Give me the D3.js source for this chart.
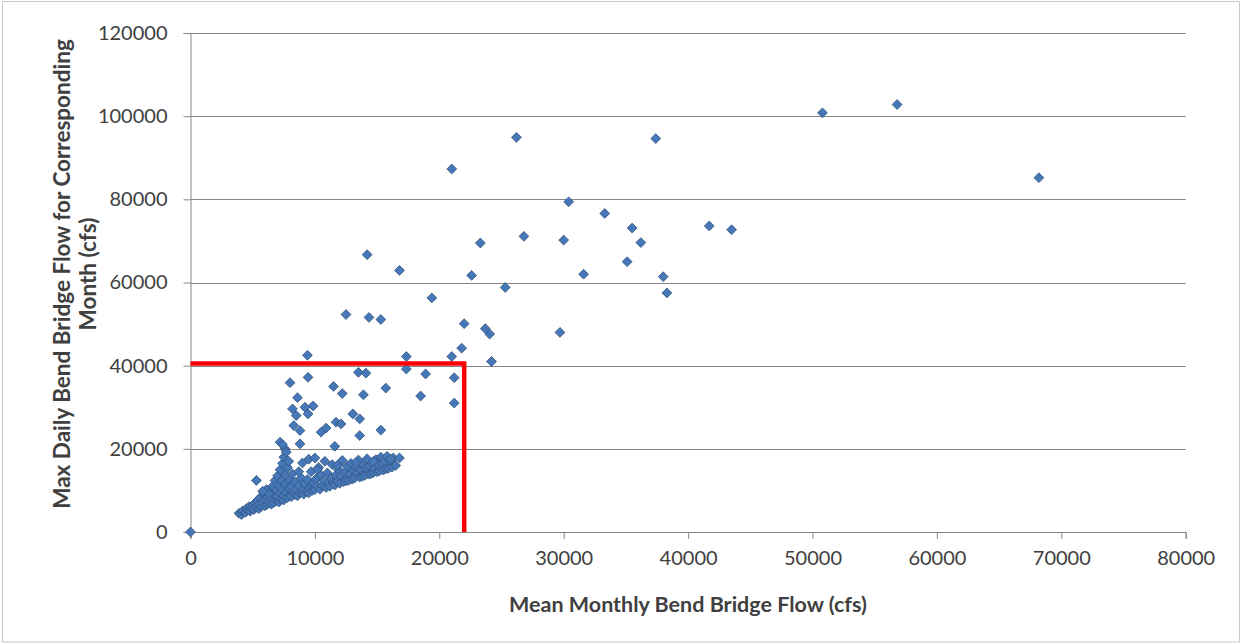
<!DOCTYPE html>
<html>
<head>
<meta charset="utf-8">
<script src="https://cdn.jsdelivr.net/npm/d3@7"></script>
<style>
  html, body { margin: 0; padding: 0; background: #ffffff; }
  svg { display: block; }
</style>
</head>
<body>
<svg id="chart" width="1243" height="644"></svg>
<script>
// ---------------- DATA ----------------
const xTicks = [0, 10000, 20000, 30000, 40000, 50000, 60000, 70000, 80000];
const yTicks = [0, 20000, 40000, 60000, 80000, 100000, 120000];
const xTitle = "Mean Monthly Bend Bridge Flow (cfs)";
const yTitleLines = ["Max Daily Bend Bridge Flow for Corresponding", "Month (cfs)"];

// Mean monthly flow (x) and max daily flow (y), cfs
const meanFlow = [
  0, 21000, 26200, 37400, 50800, 56800, 68200, 30400, 33300, 35500, 36200, 41700, 43500,
  23300, 26800, 30000, 35100, 22600, 31600, 38000, 38300, 25300, 19400, 29700, 22000,
  23700, 24050, 21800, 21000, 17350, 24200, 17350, 18900, 21200, 18500, 21200, 14200,
  16800, 12500, 14350, 15300, 9400, 13500, 14100, 9450, 8000, 11500, 12200, 15700, 13900,
  8600, 8200, 9200, 9850, 8500, 9450, 8300, 8800, 11700, 12100, 10500, 10900, 8800, 7200,
  7600, 11600, 13050, 13600, 15300, 13600, 9000, 5300, 7400,
  3900, 4100, 4200, 4400, 4500, 4600, 4700, 4800, 4900, 5000, 5100, 5200, 5300, 5400,
  5500, 5500, 5600, 5700, 5800, 5900, 6000, 6000, 6100, 6200, 6200, 6300, 6400, 6500,
  6500, 6600, 6700, 6700, 6800, 6900, 6900, 7000, 7000, 7100, 7100, 7200, 7200, 7300,
  7300, 7400, 7400, 7500, 7500, 7500, 7600, 7600, 7700, 7700, 7800, 7800, 7900, 7900,
  8000, 8000, 8100, 8100, 8200, 8300, 8400, 8400, 8500, 8600, 8700, 8800, 8900, 9000,
  9100, 9200, 9300, 9400, 9500, 9500, 9600, 9700, 9800, 9900, 10000, 10000, 10100, 10200,
  10300, 10400, 10500, 10600, 10700, 10800, 10900, 11000, 11100, 11200, 11300, 11400,
  11500, 11600, 11700, 11800, 11900, 12000, 12100, 12200, 12300, 12400, 12500, 12600,
  12700, 12800, 12900, 13000, 13100, 13200, 13300, 13400, 13500, 13600, 13700, 13800,
  13900, 14000, 14100, 14200, 14300, 14400, 14500, 14600, 14700, 14800, 14900, 15000,
  15100, 15200, 15300, 15400, 15500, 15600, 15700, 15800, 15900, 16000, 16200, 16300,
  16500, 16800, 6300, 5800, 8700, 10200, 11800, 13300, 14700, 16100
];
const maxDailyFlow = [
  0, 87300, 94900, 94600, 100800, 102800, 85200, 79400, 76600, 73100, 69600, 73600, 72700,
  69500, 71100, 70200, 65000, 61700, 62000, 61400, 57500, 58800, 56300, 48000, 50100,
  48900, 47600, 44200, 42200, 42200, 41000, 39200, 38000, 37100, 32700, 31000, 66700,
  62900, 52300, 51600, 51100, 42500, 38400, 38200, 37200, 35900, 35000, 33300, 34600, 33000,
  32300, 29600, 30000, 30300, 28000, 28400, 25600, 24400, 26400, 26000, 24000, 25000, 21200, 21600,
  20000, 20600, 28400, 27200, 24500, 23200, 16600, 12400, 21000,
  4500, 4200, 5100, 4700, 5600, 5200, 6100, 5000, 5700, 6400, 5400, 7000, 6000, 7600,
  5600, 6600, 8300, 6200, 7100, 9000, 6300, 7700, 10200, 6700, 8400, 7300, 9400, 6700,
  8000, 11000, 7100, 9000, 12400, 7500, 10000, 8500, 13500, 7200, 11200, 9300, 15000, 7800,
  12300, 16500, 10200, 7700, 8800, 18000, 11500, 13800, 9500, 19200, 8300, 15500, 10600, 17000,
  8800, 12500, 8500, 11000, 14000, 9600, 9000, 12000, 10200, 8700, 11200, 9400, 13000, 10000,
  9100, 11600, 9700, 12600, 9400, 17500, 10600, 14500, 10000, 11800, 10200, 17800, 12800, 11000,
  15500, 10300, 13600, 11200, 12300, 17000, 10700, 14200, 11700, 11000, 13000, 16200,
  11700, 11300, 13700, 12100, 15000, 11700, 13400, 17200, 12100, 14300, 12300, 15800,
  12400, 14000, 16500, 12700, 14800, 13000, 15600, 14100, 17300, 13200, 14900, 13400,
  16000, 13600, 15400, 17600, 13900, 15800, 14000, 16600, 14300, 15200, 17400, 14500,
  16200, 14700, 18000, 16400, 14900, 17000, 15200, 18200, 15300, 17200, 15600, 17800,
  16000, 17800, 9200, 9800, 14500, 15000, 16000, 16700, 17000, 17500
];

// Reference limit lines (red): horizontal to the corner, then down to the axis
const limitX = [0, 22000, 22000];
const limitY = [40500, 40500, 0];

// ---------------- CHART ----------------
const svg = d3.select("#chart");
const plot = { left: 190.5, right: 1185.7, top: 33, bottom: 532 };

const x = d3.scaleLinear().domain([0, 80000]).range([plot.left, plot.right]);
const y = d3.scaleLinear().domain([0, 120000]).range([plot.bottom, plot.top]);

const FONT = "Lato, 'Open Sans', 'Liberation Sans', sans-serif";
const axisColor = "#868686";
const textColor = "#404040";

// outer frame
svg.append("rect")
  .attr("x", 2.5).attr("y", 1.5)
  .attr("width", 1237).attr("height", 640.5)
  .attr("fill", "#ffffff")
  .attr("stroke", "#c8c8c8").attr("stroke-width", 1);

// horizontal gridlines
svg.append("g").selectAll("line")
  .data(yTicks.filter(d => d > 0))
  .join("line")
  .attr("x1", plot.left).attr("x2", plot.right)
  .attr("y1", d => Math.round(y(d)) + 0.5).attr("y2", d => Math.round(y(d)) + 0.5)
  .attr("stroke", axisColor).attr("stroke-width", 1);

// y axis
const yAxis = svg.append("g")
  .attr("transform", `translate(${plot.left},0)`)
  .call(d3.axisLeft(y).tickValues(yTicks).tickSize(7).tickPadding(16).tickFormat(d3.format("d")));
// x axis
const xAxis = svg.append("g")
  .attr("transform", `translate(0,${plot.bottom})`)
  .call(d3.axisBottom(x).tickValues(xTicks).tickSize(7).tickPadding(12).tickFormat(d3.format("d")));

[yAxis, xAxis].forEach(g => {
  g.select(".domain").attr("stroke", axisColor).attr("stroke-width", 1);
  g.selectAll(".tick line").attr("stroke", axisColor).attr("stroke-width", 1);
  g.selectAll(".tick text")
    .attr("fill", textColor)
    .style("font-family", FONT)
    .style("font-size", "20px");
});

// points (Excel-like diamonds)
const pts = meanFlow.map((v, i) => ({ mx: v, my: maxDailyFlow[i] }));
const diamond = d3.symbol().type(d3.symbolSquare).size(48);
svg.append("g").selectAll("path")
  .data(pts)
  .join("path")
  .attr("d", diamond)
  .attr("transform", d => `translate(${x(d.mx)},${y(d.my)}) rotate(45)`)
  .attr("fill", "#4677b8")
  .attr("stroke", "#34567f")
  .attr("stroke-width", 0.8);

// red limit lines
const limitLine = d3.line().x(d => x(d[0])).y(d => y(d[1]));
svg.append("path")
  .datum(limitX.map((v, i) => [v, limitY[i]]))
  .attr("d", limitLine)
  .attr("fill", "none")
  .attr("stroke", "#ff0000")
  .attr("stroke-width", 4.5)
  .attr("stroke-linejoin", "miter");

// axis titles
svg.append("text")
  .attr("x", 688).attr("y", 612)
  .attr("text-anchor", "middle")
  .attr("fill", textColor)
  .style("font-family", FONT).style("font-weight", "bold").style("font-size", "21.5px")
  .text(xTitle);

const yTitle = svg.append("text")
  .attr("transform", `translate(62,274) rotate(-90)`)
  .attr("text-anchor", "middle")
  .attr("fill", textColor)
  .style("font-family", FONT).style("font-weight", "bold").style("font-size", "22.5px");
yTitle.selectAll("tspan")
  .data(yTitleLines)
  .join("tspan")
  .attr("x", 0)
  .attr("dy", (d, i) => i === 0 ? "0.35em" : "1.15em")
  .text(d => d);
</script>
</body>
</html>
